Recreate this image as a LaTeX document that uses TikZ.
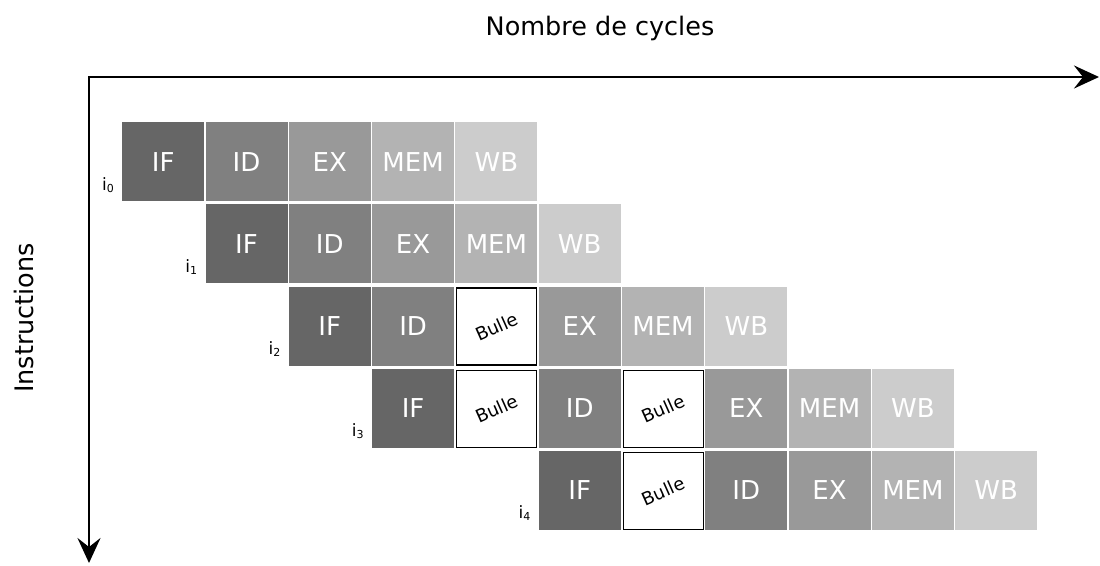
\documentclass[tikz,border=0pt]{standalone}
\usepackage{fontspec}
\setmainfont{DejaVu Sans}
\usetikzlibrary{arrows.meta}
\begin{document}
\begin{tikzpicture}[x=1pt,y=-1pt,
  cell/.style={minimum width=82pt,minimum height=79pt,inner sep=0pt,anchor=north west,
    text=white,font=\fontsize{26}{30}\selectfont},
  cIF/.style={cell,fill={rgb,255:red,102;green,102;blue,102}},
  cID/.style={cell,fill={rgb,255:red,128;green,128;blue,128}},
  cEX/.style={cell,fill={rgb,255:red,153;green,153;blue,153}},
  cMEM/.style={cell,fill={rgb,255:red,179;green,179;blue,179}},
  cWB/.style={cell,fill={rgb,255:red,204;green,204;blue,204}},
  bulle/.style={cell,fill=white,draw=black,line width=1.2pt,minimum width=80pt,minimum height=77pt},
  btext/.style={rotate=24,inner sep=0pt,font=\fontsize{18}{20}\selectfont,text=black},
  ilabel/.style={anchor=base east,inner sep=0pt,font=\fontsize{17}{19}\selectfont},
  tip/.style={Stealth[length=25pt,width=23pt,inset=9pt]},
  axis/.style={line width=2.8pt,{Stealth[length=25pt,width=23pt,inset=9pt]}-{Stealth[length=25pt,width=23pt,inset=9pt]}},
  title/.style={font=\fontsize{25.5}{30}\selectfont,inner sep=0pt}
]
\useasboundingbox (0,0) rectangle (1100,565);
\newcommand{\cx}[1]{122+83.3*#1}
\newcommand{\ry}[1]{122+82.2*#1}
\newcommand{\sub}[1]{\raisebox{-2pt}{\fontsize{11}{12}\selectfont #1}}
% axes
\coordinate (O) at (89,77);
\coordinate (X) at (1099,77);
\coordinate (Y) at (89,563);
\draw[axis] (X) -- (O) -- (Y);
\node[title,anchor=base] (tx) at (600,35) {Nombre de cycles};
\node[title,anchor=base,rotate=90] (ty) at (33,318) {Instructions};
% row 0
\node[cIF] (r0c0) at ({\cx{0}},{\ry{0}}) {IF};
\node[cID] (r0c1) at ({\cx{1}},{\ry{0}}) {ID};
\node[cEX] (r0c2) at ({\cx{2}},{\ry{0}}) {EX};
\node[cMEM] (r0c3) at ({\cx{3}},{\ry{0}}) {MEM};
\node[cWB] (r0c4) at ({\cx{4}},{\ry{0}}) {WB};
% row 1
\node[cIF] (r1c1) at ({\cx{1}},{\ry{1}}) {IF};
\node[cID] (r1c2) at ({\cx{2}},{\ry{1}}) {ID};
\node[cEX] (r1c3) at ({\cx{3}},{\ry{1}}) {EX};
\node[cMEM] (r1c4) at ({\cx{4}},{\ry{1}}) {MEM};
\node[cWB] (r1c5) at ({\cx{5}},{\ry{1}}) {WB};
% row 2
\node[cIF] (r2c2) at ({\cx{2}},{\ry{2}}) {IF};
\node[cID] (r2c3) at ({\cx{3}},{\ry{2}}) {ID};
\node[bulle] (r2c4) at ({\cx{4}+1},{\ry{2}+1}) {};
\node[btext] (b24) at (r2c4.center) {Bulle};
\node[cEX] (r2c5) at ({\cx{5}},{\ry{2}}) {EX};
\node[cMEM] (r2c6) at ({\cx{6}},{\ry{2}}) {MEM};
\node[cWB] (r2c7) at ({\cx{7}},{\ry{2}}) {WB};
% row 3
\node[cIF] (r3c3) at ({\cx{3}},{\ry{3}}) {IF};
\node[bulle] (r3c4) at ({\cx{4}+1},{\ry{3}+1}) {};
\node[btext] (b34) at (r3c4.center) {Bulle};
\node[cID] (r3c5) at ({\cx{5}},{\ry{3}}) {ID};
\node[bulle] (r3c6) at ({\cx{6}+1},{\ry{3}+1}) {};
\node[btext] (b36) at (r3c6.center) {Bulle};
\node[cEX] (r3c7) at ({\cx{7}},{\ry{3}}) {EX};
\node[cMEM] (r3c8) at ({\cx{8}},{\ry{3}}) {MEM};
\node[cWB] (r3c9) at ({\cx{9}},{\ry{3}}) {WB};
% row 4
\node[cIF] (r4c5) at ({\cx{5}},{\ry{4}}) {IF};
\node[bulle] (r4c6) at ({\cx{6}+1},{\ry{4}+1}) {};
\node[btext] (b46) at (r4c6.center) {Bulle};
\node[cID] (r4c7) at ({\cx{7}},{\ry{4}}) {ID};
\node[cEX] (r4c8) at ({\cx{8}},{\ry{4}}) {EX};
\node[cMEM] (r4c9) at ({\cx{9}},{\ry{4}}) {MEM};
\node[cWB] (r4c10) at ({\cx{10}},{\ry{4}}) {WB};
% instruction labels
\node[ilabel] (i0) at ({\cx{0}-8},{\ry{0}+68}) {i\sub{0}};
\node[ilabel] (i1) at ({\cx{1}-8},{\ry{1}+68}) {i\sub{1}};
\node[ilabel] (i2) at ({\cx{2}-8},{\ry{2}+68}) {i\sub{2}};
\node[ilabel] (i3) at ({\cx{3}-8},{\ry{3}+68}) {i\sub{3}};
\node[ilabel] (i4) at ({\cx{5}-8},{\ry{4}+68}) {i\sub{4}};
\end{tikzpicture}
\end{document}
